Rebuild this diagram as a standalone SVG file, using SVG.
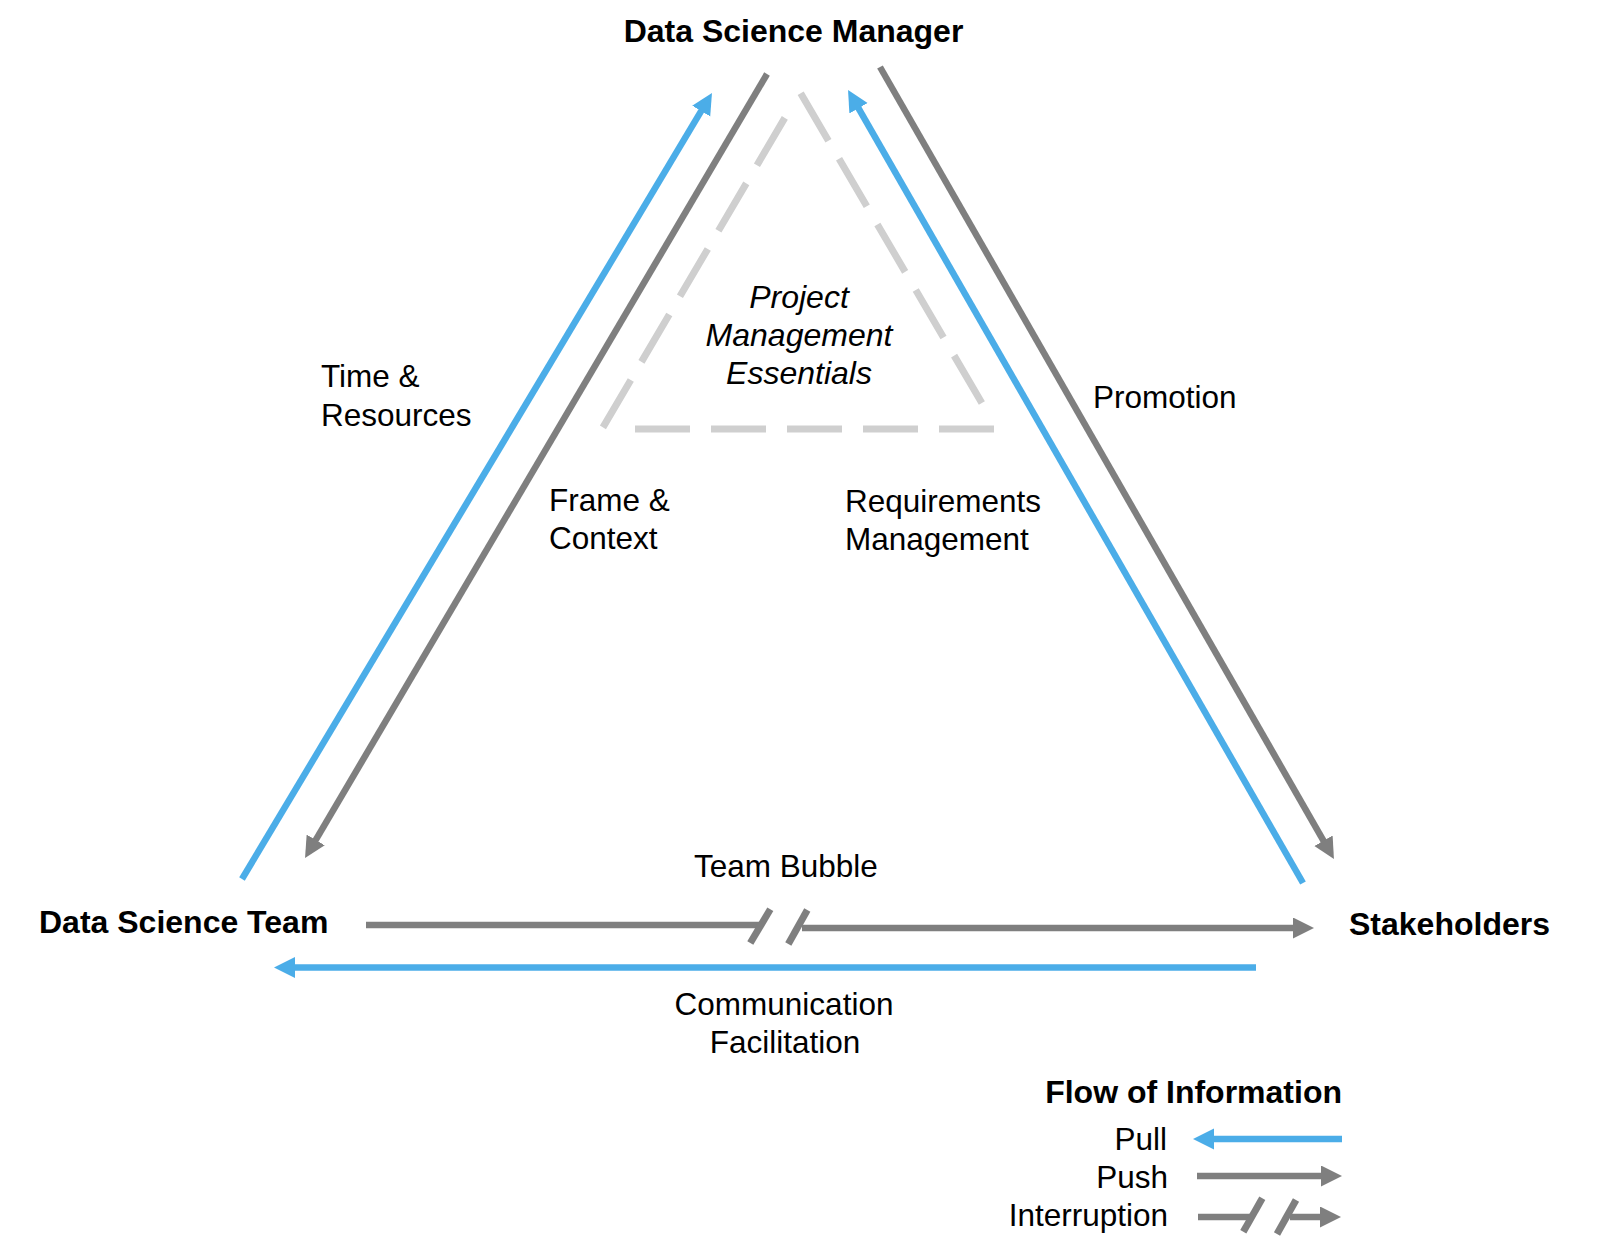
<svg xmlns="http://www.w3.org/2000/svg" width="1600" height="1243" viewBox="0 0 1600 1243">
  <style>
    .t { font-family: "Liberation Sans", Arial, sans-serif; font-size: 31.5px; fill: #000; }
    .b { font-family: "Liberation Sans", Arial, sans-serif; font-size: 32px; font-weight: bold; fill: #000; }
    .i { font-style: italic; font-size: 32px; }
    .push { stroke: #7f7f7f; stroke-width: 6.5; fill: none; }
    .pull { stroke: #4badE8; stroke-width: 6.5; fill: none; }
    .slash { stroke: #7f7f7f; stroke-width: 7; fill: none; }
    .dash { stroke: #cfcfcf; stroke-width: 7; fill: none; }
  </style>
  <defs>
    <marker id="hg" markerUnits="userSpaceOnUse" markerWidth="22" markerHeight="22" refX="1" refY="10.5" orient="auto">
      <path d="M0,0 L21,10.5 L0,21 z" fill="#7f7f7f"/>
    </marker>
    <marker id="hb" markerUnits="userSpaceOnUse" markerWidth="22" markerHeight="22" refX="1" refY="10.5" orient="auto">
      <path d="M0,0 L21,10.5 L0,21 z" fill="#4badE8"/>
    </marker>
  </defs>

  <rect width="1600" height="1243" fill="#ffffff"/>

  <!-- Central dashed triangle -->
  <g id="pm-essentials">
    <line class="dash" x1="602" y1="429" x2="997" y2="429" stroke-dasharray="0 33 55 21 55 21 55 21 55 21 55 200"/>
    <line class="dash" x1="997" y1="429" x2="800" y2="92" stroke-dasharray="0 30 55 21 55 21 55 21 55 21 55 200"/>
    <line class="dash" x1="800" y1="92" x2="602" y2="429" stroke-dasharray="0 30 55 21 55 21 55 21 55 21 55 200"/>
    <text class="t i" text-anchor="middle" x="799" y="308">Project</text>
    <text class="t i" text-anchor="middle" x="799" y="346">Management</text>
    <text class="t i" text-anchor="middle" x="799" y="384">Essentials</text>
  </g>

  <!-- Nodes -->
  <g id="node-manager">
    <text class="b" text-anchor="middle" x="793.5" y="42">Data Science Manager</text>
  </g>
  <g id="node-team">
    <text class="b" x="39" y="933">Data Science Team</text>
  </g>
  <g id="node-stakeholders">
    <text class="b" x="1349" y="935">Stakeholders</text>
  </g>

  <!-- Connectors -->
  <g id="connectors">
    <line class="pull" x1="242" y1="879" x2="701.7" y2="110.2" marker-end="url(#hb)"/>
    <line class="push" x1="767" y1="74" x2="315.2" y2="840.8" marker-end="url(#hg)"/>
    <line class="pull" x1="1303" y1="883" x2="858" y2="107.4" marker-end="url(#hb)"/>
    <line class="push" x1="880" y1="67" x2="1324" y2="841.6" marker-end="url(#hg)"/>
    <line class="push" x1="366" y1="925" x2="760" y2="925"/>
    <line class="slash" x1="750.3" y1="943" x2="770.3" y2="909.3"/>
    <line class="slash" x1="788.3" y1="944" x2="807.3" y2="910"/>
    <line class="push" x1="802" y1="928" x2="1294" y2="928" marker-end="url(#hg)"/>
    <line class="pull" x1="1256" y1="967.5" x2="294" y2="967.5" marker-end="url(#hb)"/>
  </g>

  <!-- Connector labels -->
  <g id="labels">
    <text class="t" x="321" y="387">Time &amp;</text>
    <text class="t" x="321" y="426">Resources</text>
    <text class="t" x="549" y="511">Frame &amp;</text>
    <text class="t" x="549" y="549">Context</text>
    <text class="t" x="1093" y="408">Promotion</text>
    <text class="t" x="845" y="512">Requirements</text>
    <text class="t" x="845" y="550">Management</text>
    <text class="t" x="694" y="877">Team Bubble</text>
    <text class="t" text-anchor="middle" x="784" y="1015">Communication</text>
    <text class="t" text-anchor="middle" x="785" y="1053">Facilitation</text>
  </g>

  <!-- Legend -->
  <g id="legend">
    <text class="b" text-anchor="end" x="1342" y="1103">Flow of Information</text>
    <text class="t" text-anchor="end" x="1167" y="1150">Pull</text>
    <text class="t" text-anchor="end" x="1168" y="1188">Push</text>
    <text class="t" text-anchor="end" x="1168" y="1226">Interruption</text>
    <line class="pull" x1="1342" y1="1139" x2="1213" y2="1139" marker-end="url(#hb)"/>
    <line class="push" x1="1197" y1="1176" x2="1322" y2="1176" marker-end="url(#hg)"/>
    <line class="push" x1="1198" y1="1217" x2="1251" y2="1217"/>
    <line class="slash" x1="1243.3" y1="1231.7" x2="1262.3" y2="1198.3"/>
    <line class="slash" x1="1277" y1="1234" x2="1296" y2="1200"/>
    <line class="push" x1="1290" y1="1217" x2="1321" y2="1217" marker-end="url(#hg)"/>
  </g>
</svg>
